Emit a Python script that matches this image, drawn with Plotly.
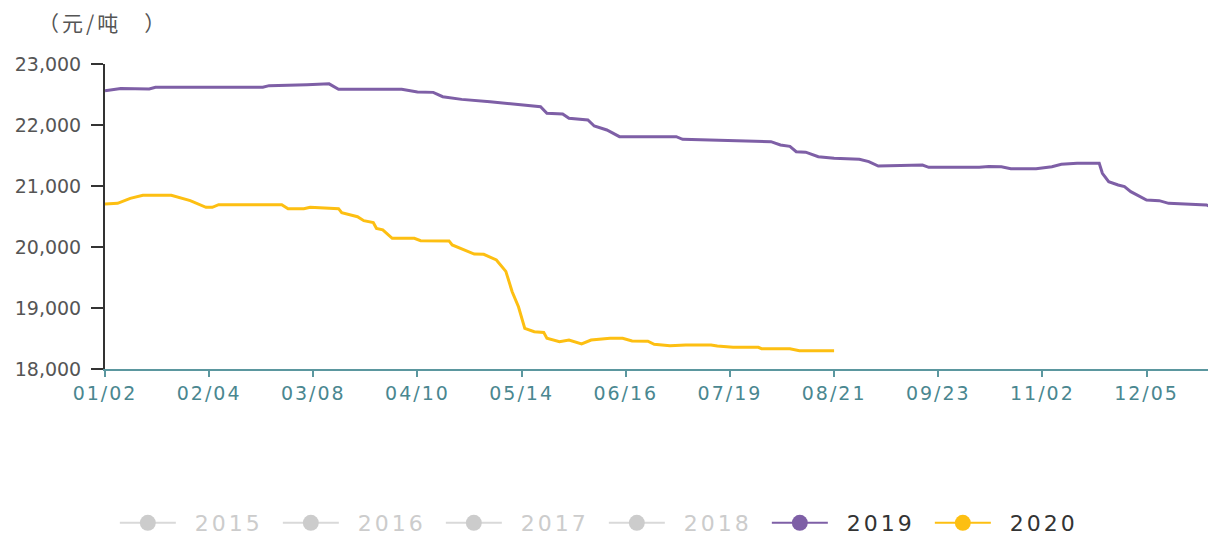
import plotly.graph_objects as go

# x axis: day index from 01/02 (ticks every 33 steps)
tick_idx = [0, 33, 66, 99, 132, 165, 198, 231, 264, 297, 330]
tick_labels = ["01/02", "02/04", "03/08", "04/10", "05/14", "06/16",
               "07/19", "08/21", "09/23", "11/02", "12/05"]
y_ticks = [18000, 19000, 20000, 21000, 22000, 23000]

x2019 = [0, 5, 14, 16, 50, 52, 64, 71, 74, 94, 99, 104, 107, 113, 122, 129, 138,
         140, 145, 147, 153, 155, 159, 163, 181, 183, 198, 211, 214, 217, 219, 222,
         226, 231, 239, 242, 245, 259, 261, 277, 280, 284, 287, 295, 300, 303, 308,
         315, 316, 318, 321, 323, 325, 330, 334, 337, 349, 352]
y2019 = [22562, 22600, 22590, 22618, 22618, 22645, 22661, 22675, 22585, 22585,
         22541, 22535, 22464, 22420, 22380, 22350, 22300, 22191, 22180, 22109,
         22082, 21984, 21918, 21809, 21809, 21765, 21743, 21727, 21672, 21650,
         21563, 21555, 21481, 21454, 21437, 21399, 21328, 21344, 21306, 21306,
         21320, 21315, 21284, 21284, 21317, 21355, 21372, 21372, 21208, 21071,
         21016, 20989, 20907, 20770, 20760, 20716, 20689, 20618]

x2020 = [0, 4, 8, 12, 21, 27, 32, 34, 36, 56, 58, 63, 65, 74, 75, 80, 82, 85, 86,
         88, 91, 98, 100, 109, 110, 117, 120, 124, 127, 129, 131, 133, 136, 139,
         140, 144, 147, 151, 154, 160, 164, 167, 172, 174, 179, 184, 192, 194, 199,
         207, 208, 217, 220, 231]
y2020 = [20705, 20716, 20798, 20847, 20847, 20760, 20650, 20650, 20694, 20694,
         20628, 20628, 20650, 20628, 20563, 20497, 20432, 20400, 20306, 20280,
         20142, 20142, 20104, 20100, 20033, 19885, 19880, 19787, 19600, 19267,
         19021, 18667, 18612, 18600, 18503, 18448, 18475, 18410, 18475, 18503,
         18503, 18459, 18455, 18405, 18382, 18395, 18395, 18377, 18355, 18355,
         18333, 18333, 18300, 18300]

hidden_years = ["2015", "2016", "2017", "2018"]
c2019 = "#7e5fa6"
c2020 = "#fdbf12"


def spaced(t, ls, color=None):
    style = f"letter-spacing:{ls}px"
    if color:
        style += f";color:{color}"
    return f"<span style='{style}'>{t}</span>"


fig = go.Figure()
for yr in hidden_years:
    fig.add_trace(go.Scatter(
        x=[None], y=[None], mode="lines+markers",
        name="&nbsp;&nbsp;" + spaced(yr, 3, "#cccccc"),
        line=dict(color="#d9d9d9", width=2),
        marker=dict(color="#cccccc", size=16),
    ))
for yr, xs, ys, c in [("2019", x2019, y2019, c2019), ("2020", x2020, y2020, c2020)]:
    fig.add_trace(go.Scatter(
        x=[None], y=[None], mode="lines+markers", name="&nbsp;&nbsp;" + spaced(yr, 3),
        legendgroup=yr, line=dict(color=c, width=2), marker=dict(color=c, size=16),
    ))
    fig.add_trace(go.Scatter(
        x=xs, y=ys, mode="lines", name=yr, legendgroup=yr, showlegend=False,
        line=dict(color=c, width=3),
    ))

fig.update_layout(
    width=1216, height=535,
    margin=dict(l=97, r=8, t=56, b=174, autoexpand=False),
    plot_bgcolor="white", paper_bgcolor="white",
    font=dict(family="DejaVu Sans, Noto Sans CJK SC", color="#555555"),
    showlegend=True,
    legend=dict(
        orientation="h", x=0.449, xanchor="center", y=-0.505, yanchor="middle",
        font=dict(size=22, color="#333333"),
        entrywidth=92, entrywidthmode="pixels", itemwidth=56,
    ),
    xaxis=dict(
        range=[0, 352], tickmode="array", tickvals=tick_idx,
        ticktext=[spaced(t, 2) for t in tick_labels],
        showgrid=False, zeroline=False, showline=True, linecolor="#5b979f",
        linewidth=2, ticks="outside", ticklen=6, tickcolor="#5b979f", tickwidth=2,
        tickfont=dict(size=19, color="#4a8790"),
    ),
    yaxis=dict(
        range=[18000, 23000], tickmode="array", tickvals=y_ticks,
        tickformat=",",
        showgrid=False, zeroline=False, showline=True,
        linecolor="#333333", linewidth=2, ticks="outside", ticklen=12,
        tickcolor="#333333", tickwidth=2, ticklabelstandoff=6,
        tickfont=dict(size=19, color="#555555"),
    ),
    annotations=[dict(
        text="<span style='letter-spacing:3px'>（元/吨&nbsp;&nbsp;&nbsp;）</span>",
        xref="paper", yref="paper",
        x=-0.0014, y=1.138, xanchor="center", yanchor="middle", showarrow=False,
        font=dict(size=21, color="#555555", family="Noto Sans CJK SC"),
    )],
)

fig.write_html("out.html")
